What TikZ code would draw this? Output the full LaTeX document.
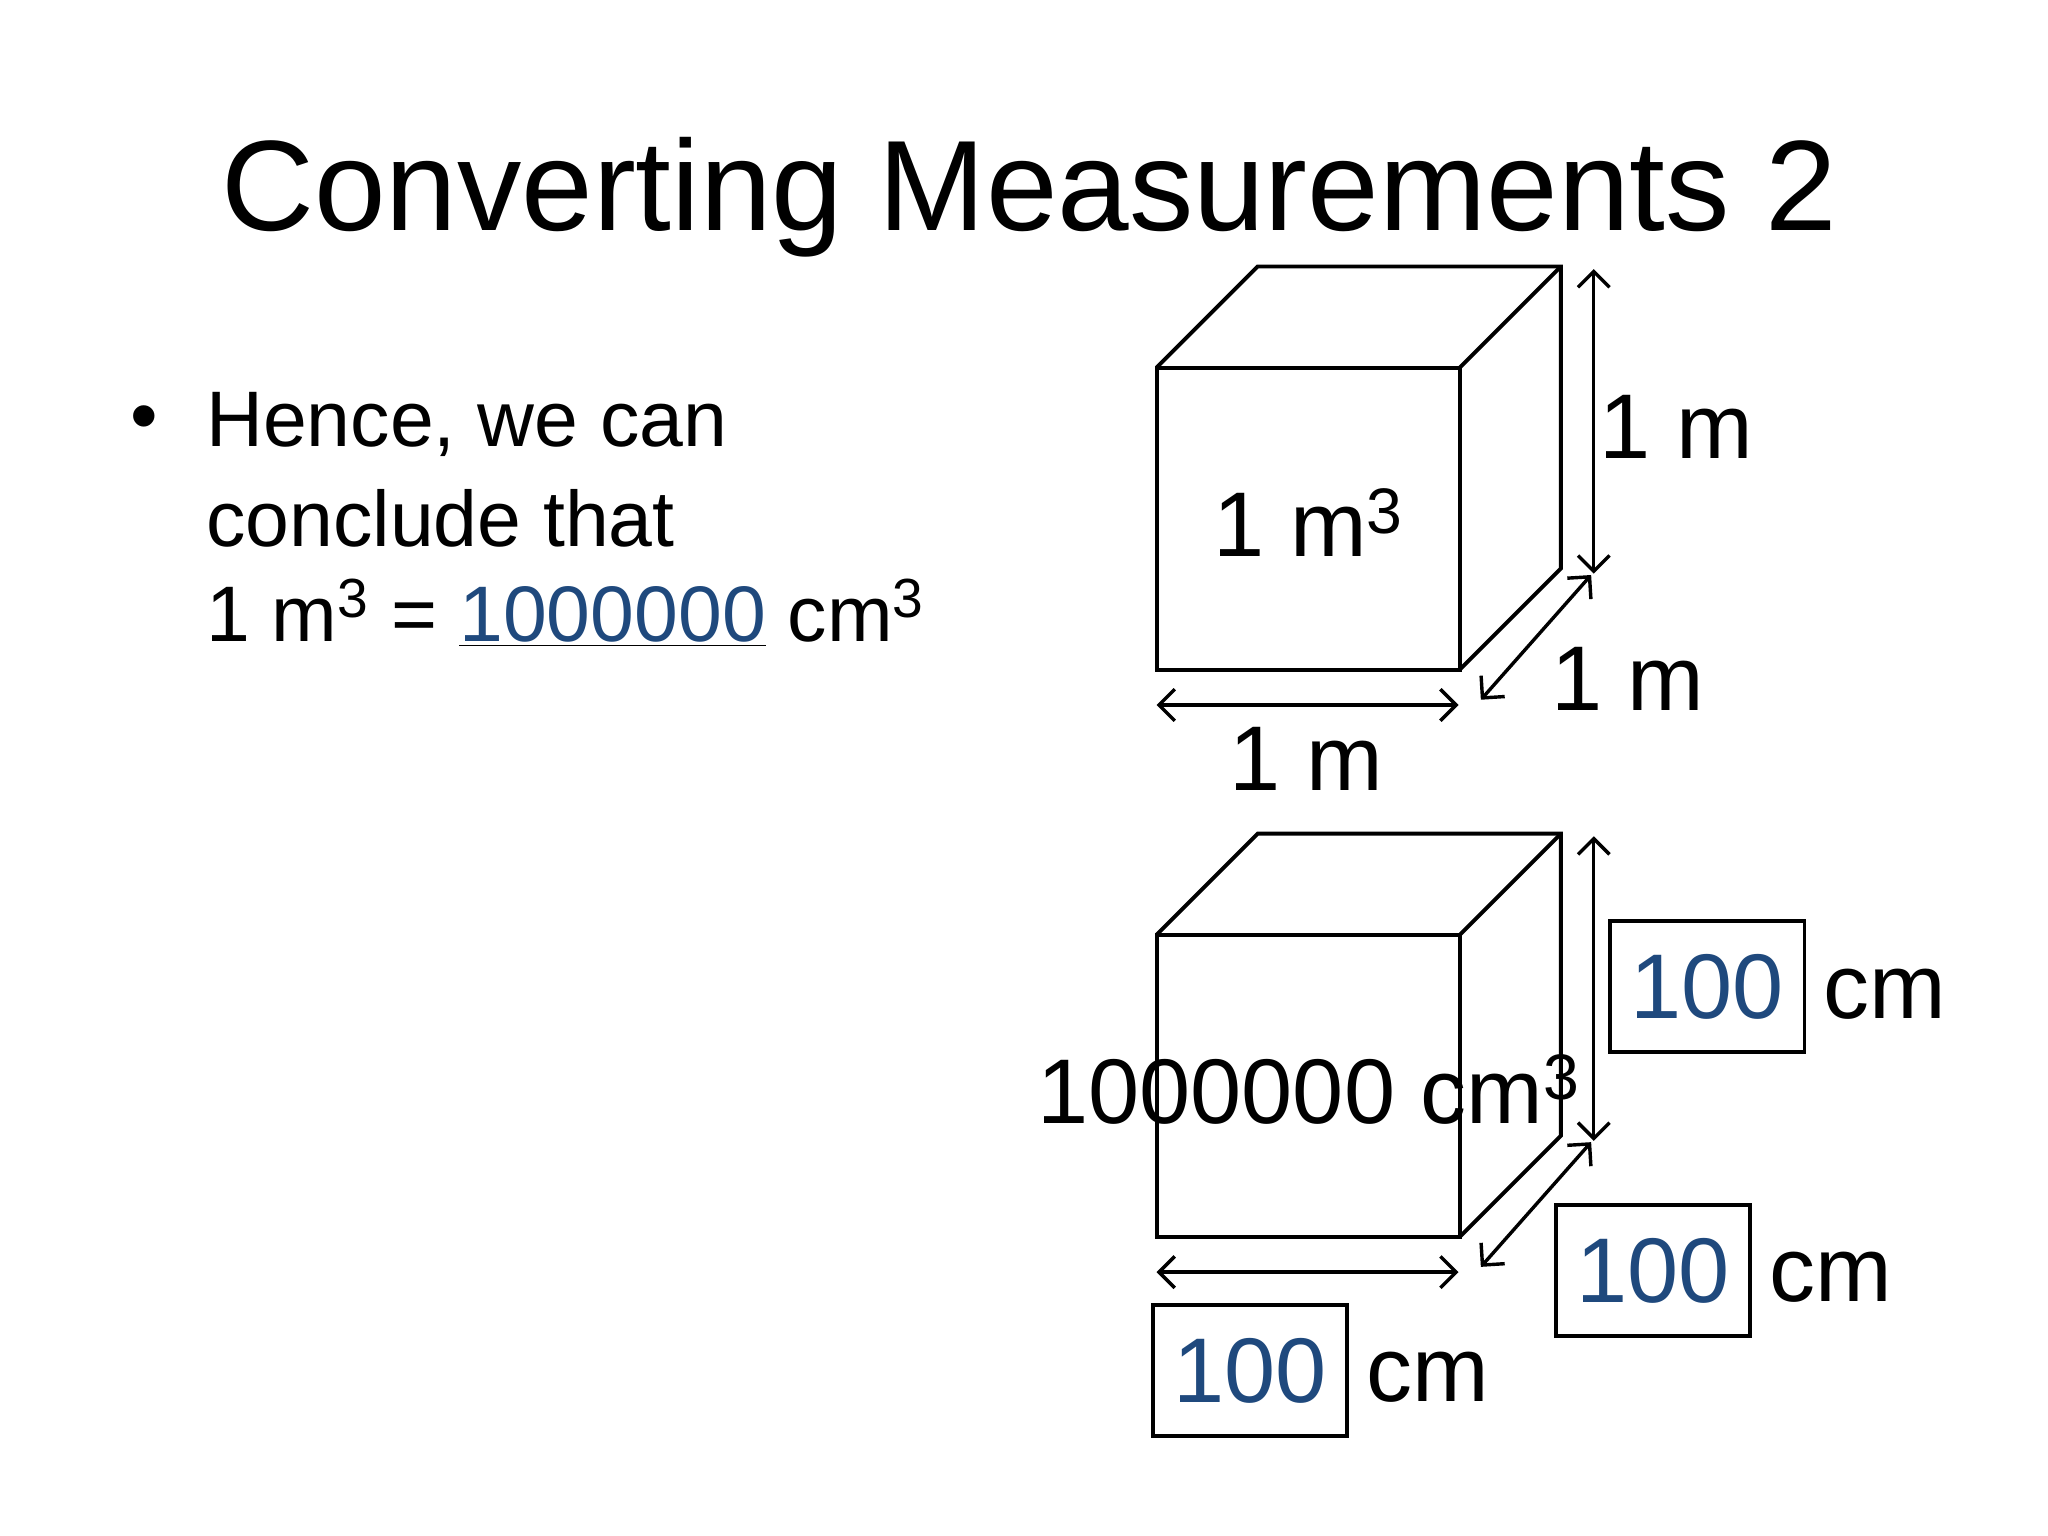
\documentclass[tikz,border=0pt]{standalone}
\usepackage{fontspec}
\setmainfont{Liberation Sans}
\usetikzlibrary{arrows.meta}
\definecolor{dblue}{HTML}{1F497D}
\begin{document}
\begin{tikzpicture}[x=0.5pt,y=-0.5pt,
  edge/.style={line width=1.5pt,line join=miter},
  dim/.style={line width=1.3pt,{Straight Barb[length=6pt,width=12pt]}-{Straight Barb[length=6pt,width=12pt]}},
  lbl/.style={font=\fontsize{35}{40}\selectfont},
  bx/.style={draw,line width=1.5pt,minimum width=74pt,minimum height=50pt,inner sep=0pt,text=dblue,font=\fontsize{35}{40}\selectfont},
  body/.style={font=\fontsize{30}{36}\selectfont,anchor=west}]
\useasboundingbox (0,0) rectangle (1560,1170);
\node (title) at (784,150) {\fontsize{49}{56}\selectfont Converting Measurements 2};
\node[body] (bul) at (92,323) {•};
\node[body] (l1) at (150,323) {Hence, we can};
\node[body] (l2) at (150,395) {conclude that};
\node[body] (l3) at (150,467) {1 m\textsuperscript{3} = \underline{\textcolor{dblue}{1000000}} cm\textsuperscript{3}};
% cube 1
\foreach \dy/\n in {0/a,432/b}{
  \coordinate (\n fl) at (881,280+\dy); \coordinate (\n fr) at (1112,280+\dy);
  \coordinate (\n bl) at (881,510+\dy); \coordinate (\n br) at (1112,510+\dy);
  \coordinate (\n tl) at (958,203+\dy); \coordinate (\n tr) at (1189,203+\dy);
  \coordinate (\n rb) at (1189,433+\dy);
  \draw[edge] (\n fl) rectangle (\n br);
  \draw[edge] (\n fl) -- (\n tl) -- (\n tr) -- (\n rb) -- (\n br);
  \draw[edge] (\n fr) -- (\n tr);
  \coordinate (\n v1) at (1214,205+\dy); \coordinate (\n v2) at (1214,437+\dy);
  \coordinate (\n d1) at (1128,533+\dy); \coordinate (\n d2) at (1212,438+\dy);
  \coordinate (\n h1) at (881,537+\dy); \coordinate (\n h2) at (1111,537+\dy);
  \draw[dim] (\n v1) -- (\n v2);
  \draw[dim] (\n d1) -- (\n d2);
  \draw[dim] (\n h1) -- (\n h2);
}
\node[lbl] (m1) at (1277,325) {1 m};
\node[lbl] (m2) at (1240,517) {1 m};
\node[lbl] (m3) at (995,578) {1 m};
\node[lbl] (vol1) at (997,398) {1 m\textsuperscript{3}};
\node[lbl] (vol2) at (997,830) {1000000 cm\textsuperscript{3}};
\node[bx] (b1) at (1300.5,751.5) {100};
\node[lbl,anchor=west] (c1) at (1382,757) {cm};
\node[bx] (b2) at (1259,968) {100};
\node[lbl,anchor=west] (c2) at (1341,973) {cm};
\node[bx] (b3) at (952,1044) {100};
\node[lbl,anchor=west] (c3) at (1034,1049) {cm};
\end{tikzpicture}
\end{document}
